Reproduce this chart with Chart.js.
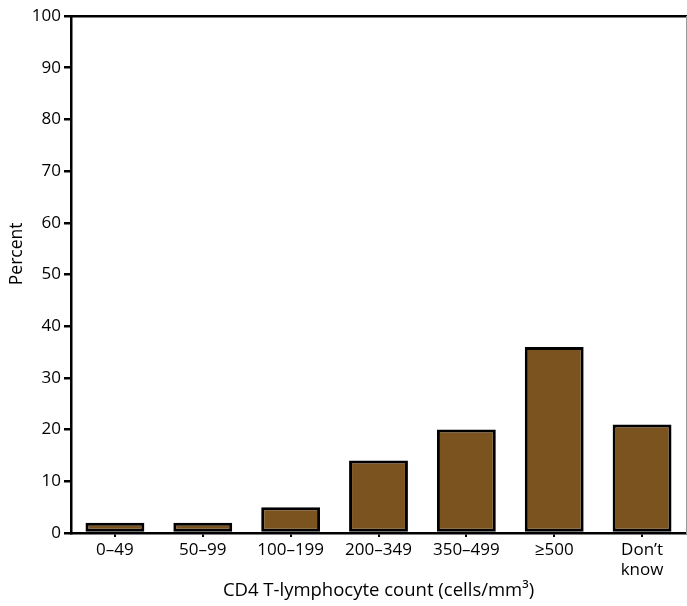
<!DOCTYPE html>
<html>
<head>
<meta charset="utf-8">
<script src="https://cdn.jsdelivr.net/npm/chart.js@4"></script>
<style>
  body { margin: 0; background: #fff; }
  #wrap { width: 687px; height: 606px; }
</style>
</head>
<body>
<div id="wrap"><canvas id="chart"></canvas></div>
<script>
// data
const categories = ["0\u201349", "50\u201399", "100\u2013199", "200\u2013349", "350\u2013499", "\u2265500", ["Don\u2019t", "know"]];
const percentValues = [2, 2, 5, 14, 20, 36, 21];
const yTicks = [0, 10, 20, 30, 40, 50, 60, 70, 80, 90, 100];
const yTitle = "Percent";
const xTitle = "CD4 T-lymphocyte count (cells/mm\u00b3)";

const barColor = "#7b531f";
const fontFamily = "'Open Sans', 'DejaVu Sans', sans-serif";

Chart.defaults.font.family = fontFamily;
Chart.defaults.color = "#000";

// y title sits a bit above the middle of the axis in the original
const yTitlePlugin = {
  id: "yTitle",
  afterDraw(chart) {
    const ctx = chart.ctx;
    const area = chart.chartArea;
    ctx.save();
    ctx.translate(17, area.top + (area.bottom - area.top) * 0.46);
    ctx.rotate(-Math.PI / 2);
    ctx.font = "17.5px " + fontFamily;
    ctx.fillStyle = "#000";
    ctx.textAlign = "center";
    ctx.textBaseline = "middle";
    ctx.fillText(yTitle, 0, 0);
    ctx.restore();
  }
};

new Chart(document.getElementById("chart"), {
  type: "bar",
  data: {
    labels: categories,
    datasets: [{
      label: "Percent",
      data: percentValues,
      backgroundColor: barColor,
      borderColor: "#000",
      borderWidth: 3,
      borderSkipped: false,
      categoryPercentage: 0.67,
      barPercentage: 1.0
    }]
  },
  options: {
    responsive: true,
    maintainAspectRatio: false,
    animation: false,
    layout: { padding: { top: 16, right: 1, left: 0, bottom: 0 } },
    plugins: {
      legend: { display: false },
      tooltip: { enabled: false }
    },
    scales: {
      x: {
        position: "bottom",
        grid: { display: true, offset: false, drawOnChartArea: false, drawTicks: true, tickLength: 4, color: "#000", lineWidth: 2 },
        border: { color: "#000", width: 2.5 },
        ticks: { font: { size: 17 }, color: "#000", padding: 3, maxRotation: 0 },
        title: {
          display: true,
          text: xTitle,
          font: { size: 18.5 },
          color: "#000",
          padding: { top: 0, bottom: 4 }
        },
        afterFit: function (scale) { scale.height = 73; }
      },
      xTop: {
        position: "top",
        grid: { display: false },
        border: { color: "#000", width: 2.5 },
        ticks: { display: false },
        afterFit: function (scale) { scale.height = 0; }
      },
      y: {
        min: 0,
        max: 100,
        afterBuildTicks: function (scale) { scale.ticks = yTicks.map(v => ({ value: v })); },
        grid: { display: true, drawOnChartArea: false, drawTicks: true, tickLength: 7, color: "#000", lineWidth: 2.5 },
        border: { color: "#000", width: 2.5 },
        ticks: { font: { size: 17 }, color: "#000", padding: 3 },
        title: { display: false },
        afterFit: function (scale) { scale.width = 71; }
      },
      yRight: {
        position: "right",
        grid: { display: false },
        border: { color: "#999", width: 1 },
        ticks: { display: false },
        afterFit: function (scale) { scale.width = 0; }
      }
    }
  },
  plugins: [yTitlePlugin]
});
</script>
</body>
</html>
